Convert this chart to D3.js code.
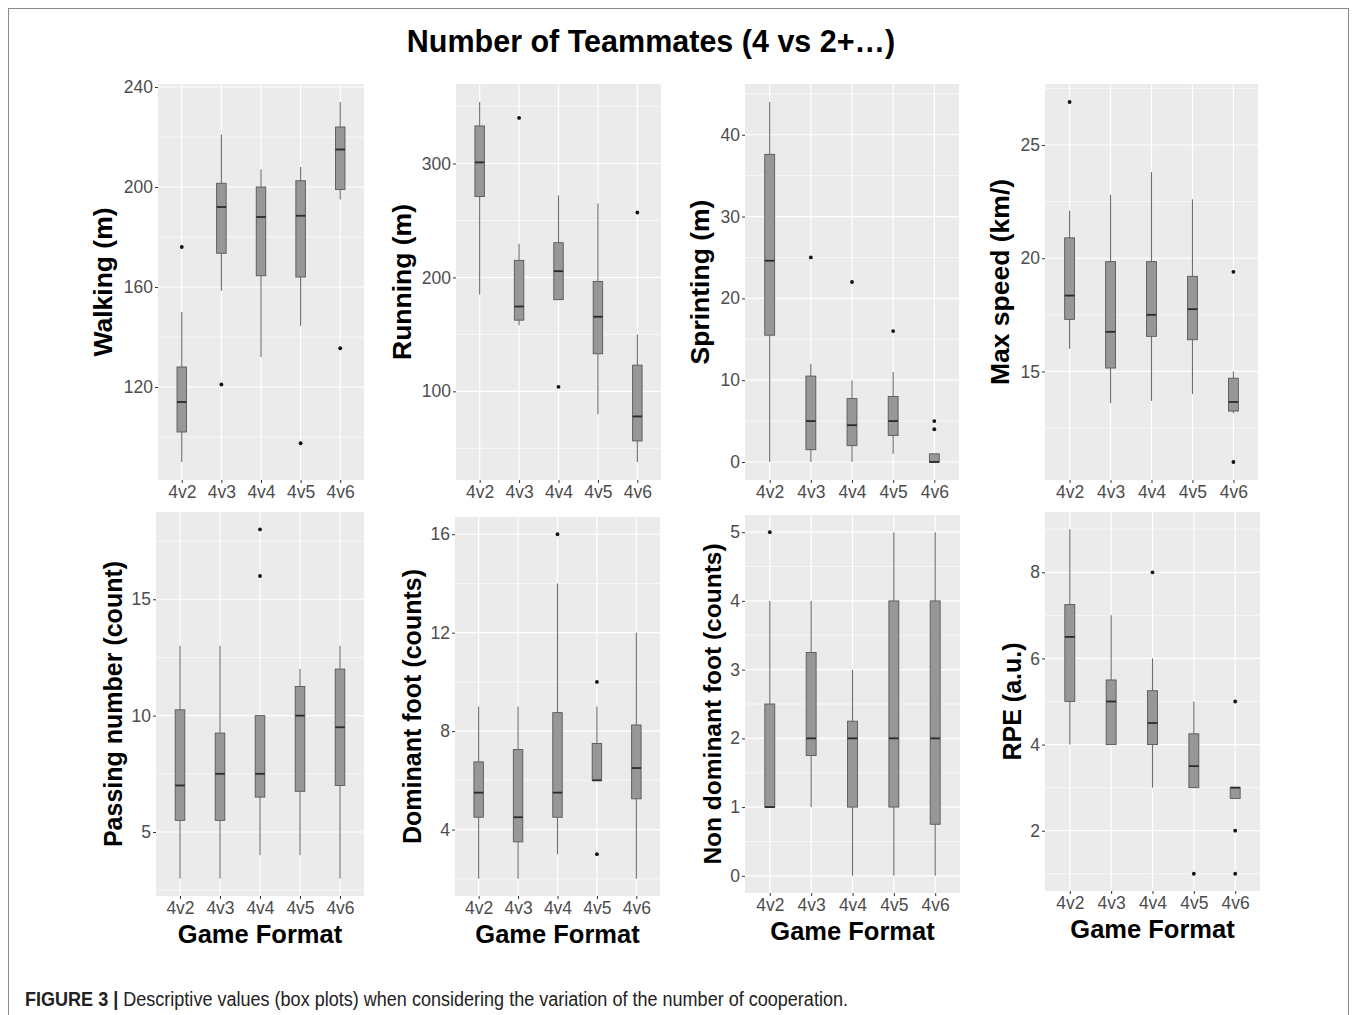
<!DOCTYPE html>
<html>
<head>
<meta charset="utf-8">
<script src="https://cdn.jsdelivr.net/npm/d3@7"></script>
<style>
  html, body { margin: 0; padding: 0; background: #fff; }
  svg { display: block; }
  .tick text { fill: #4D4D4D; }
  .tick line { stroke: #333; }
</style>
</head>
<body>
<svg id="fig" width="1357" height="1015"></svg>
<script>
// Game formats on the x axis of every panel
const categories = ["4v2", "4v3", "4v4", "4v5", "4v6"];

// Box statistics per format: [lower whisker, Q1, median, Q3, upper whisker]
const walkingStats = [[90, 102, 114, 128, 150], [158.5, 173.5, 192, 201.5, 221], [132, 164.5, 188, 200, 207], [144.5, 164, 188.5, 202.5, 208], [195, 199, 215, 224, 234]];
const walkingOutliers = [[176], [121], [], [97.5], [135.5]];

const runningStats = [[185, 271, 301, 333, 354], [158, 162.5, 174.5, 215, 229.5], [180.5, 180.5, 205.5, 230.5, 272], [80, 133, 165.5, 196.5, 265], [38, 56.5, 78, 123, 150]];
const runningOutliers = [[], [340], [104], [], [257]];

const sprintingStats = [[0, 15.5, 24.6, 37.6, 44], [0, 1.5, 5, 10.5, 12], [0, 2, 4.5, 7.75, 10], [1, 3.25, 5, 8, 11], [0, 0, 0, 1, 1]];
const sprintingOutliers = [[], [25], [22], [16], [4, 5]];

const maxSpeedStats = [[16, 17.3, 18.35, 20.9, 22.1], [13.6, 15.15, 16.75, 19.85, 22.8], [13.7, 16.55, 17.5, 19.85, 23.8], [14, 16.4, 17.75, 19.2, 22.6], [13.15, 13.25, 13.65, 14.7, 15]];
const maxSpeedOutliers = [[26.9], [], [], [], [19.4, 11]];

const passingStats = [[3, 5.5, 7, 10.25, 13], [3, 5.5, 7.5, 9.25, 13], [4, 6.5, 7.5, 10, 10], [4, 6.75, 10, 11.25, 12], [3, 7, 9.5, 12, 13]];
const passingOutliers = [[], [], [16, 18], [], []];

const dominantStats = [[2, 4.5, 5.5, 6.75, 9], [2, 3.5, 4.5, 7.25, 9], [3, 4.5, 5.5, 8.75, 14], [6, 6, 6, 7.5, 9], [2, 5.25, 6.5, 8.25, 12]];
const dominantOutliers = [[], [], [16], [10, 3], []];

const nonDominantStats = [[1, 1, 1, 2.5, 4], [1, 1.75, 2, 3.25, 4], [0, 1, 2, 2.25, 3], [0, 1, 2, 4, 5], [0, 0.75, 2, 4, 5]];
const nonDominantOutliers = [[5], [], [], [], []];

const rpeStats = [[4, 5, 6.5, 7.25, 9], [4, 4, 5, 5.5, 7], [3, 4, 4.5, 5.25, 6], [3, 3, 3.5, 4.25, 5], [2.75, 2.75, 3, 3, 3]];
const rpeOutliers = [[], [], [8], [1], [5, 2, 1]];

// Tick labels on each y axis
const walkingTicks = [120, 160, 200, 240];
const runningTicks = [100, 200, 300];
const sprintingTicks = [0, 10, 20, 30, 40];
const maxSpeedTicks = [15, 20, 25];
const passingTicks = [5, 10, 15];
const dominantTicks = [4, 8, 12, 16];
const nonDominantTicks = [0, 1, 2, 3, 4, 5];
const rpeTicks = [2, 4, 6, 8];

const yTitles = ["Walking (m)", "Running (m)", "Sprinting (m)", "Max speed (km/)",
                 "Passing number (count)", "Dominant foot (counts)", "Non dominant foot (counts)", "RPE (a.u.)"];

const panelData = [
  { stats: walkingStats, outliers: walkingOutliers, ticks: walkingTicks },
  { stats: runningStats, outliers: runningOutliers, ticks: runningTicks },
  { stats: sprintingStats, outliers: sprintingOutliers, ticks: sprintingTicks },
  { stats: maxSpeedStats, outliers: maxSpeedOutliers, ticks: maxSpeedTicks },
  { stats: passingStats, outliers: passingOutliers, ticks: passingTicks },
  { stats: dominantStats, outliers: dominantOutliers, ticks: dominantTicks },
  { stats: nonDominantStats, outliers: nonDominantOutliers, ticks: nonDominantTicks },
  { stats: rpeStats, outliers: rpeOutliers, ticks: rpeTicks }
];

// Panel rectangles (left, top, right, bottom), y-title centre and font sizes
const layout = [
  { l: 158, t: 84, r: 364, b: 480, tx: 103, tfs: 26.5, xTitle: false },
  { l: 456, t: 84, r: 661, b: 480, tx: 402, tfs: 26.5, xTitle: false },
  { l: 745, t: 84, r: 959, b: 480, tx: 700, tfs: 26.5, xTitle: false },
  { l: 1045, t: 84, r: 1258, b: 480, tx: 1000, tfs: 26.5, xTitle: false },
  { l: 156, t: 512, r: 364, b: 896, tx: 113, tfs: 25, xTitle: true },
  { l: 455, t: 517, r: 660, b: 896, tx: 412, tfs: 25, xTitle: true },
  { l: 745, t: 515, r: 960, b: 893, tx: 712, tfs: 24.5, xTitle: true },
  { l: 1045, t: 512, r: 1260, b: 891, tx: 1012, tfs: 25, xTitle: true }
];

const svg = d3.select("#fig");
const FONT = "Liberation Sans, Arial, Helvetica, sans-serif";

// Outer frame
svg.append("rect")
  .attr("x", 8.5).attr("y", 8.5).attr("width", 1340).attr("height", 1020)
  .attr("fill", "none").attr("stroke", "#8a8a8a").attr("stroke-width", 1);

// Overall title
svg.append("text")
  .attr("x", 651).attr("y", 52)
  .attr("text-anchor", "middle")
  .attr("font-family", FONT).attr("font-weight", "bold").attr("font-size", 30.5)
  .attr("fill", "#000")
  .text("Number of Teammates (4 vs 2+…)");

panelData.forEach((pd, i) => {
  const L = layout[i];
  const g = svg.append("g");

  // Discrete x scale with ggplot-style 0.6 expansion on both sides
  const x = d3.scaleLinear().domain([0.4, categories.length + 0.6]).range([L.l, L.r]);
  const unit = (L.r - L.l) / (categories.length + 0.2);

  // Continuous y scale expanded by 5% of the data range
  const all = pd.stats.flat().concat(pd.outliers.flat());
  const lo = d3.min(all), hi = d3.max(all), pad = (hi - lo) * 0.05;
  const y = d3.scaleLinear().domain([lo - pad, hi + pad]).range([L.b, L.t]);

  // Panel background
  g.append("rect")
    .attr("x", L.l).attr("y", L.t).attr("width", L.r - L.l).attr("height", L.b - L.t)
    .attr("fill", "#EBEBEB");

  // Minor grid lines halfway between major ticks
  const step = pd.ticks[1] - pd.ticks[0];
  const minors = [];
  for (let v = pd.ticks[0] - step / 2; v <= hi + pad; v += step) {
    if (v >= lo - pad) minors.push(v);
  }
  g.selectAll(".minor").data(minors).enter().append("line")
    .attr("x1", L.l).attr("x2", L.r)
    .attr("y1", d => y(d)).attr("y2", d => y(d))
    .attr("stroke", "#fff").attr("stroke-width", 0.6);

  // Major grid lines
  g.selectAll(".major").data(pd.ticks).enter().append("line")
    .attr("x1", L.l).attr("x2", L.r)
    .attr("y1", d => y(d)).attr("y2", d => y(d))
    .attr("stroke", "#fff").attr("stroke-width", 1.2);
  g.selectAll(".vmajor").data(categories).enter().append("line")
    .attr("x1", (d, k) => x(k + 1)).attr("x2", (d, k) => x(k + 1))
    .attr("y1", L.t).attr("y2", L.b)
    .attr("stroke", "#fff").attr("stroke-width", 1.2);

  // Axes
  const yAxis = d3.axisLeft(y).tickValues(pd.ticks).tickSize(3).tickPadding(2).tickFormat(d3.format("d"));
  const ya = g.append("g").attr("transform", `translate(${L.l},0)`).call(yAxis);
  ya.select(".domain").remove();
  ya.selectAll("text").attr("font-family", FONT).attr("font-size", 17.5).attr("fill", "#4D4D4D");
  ya.selectAll("line").attr("stroke", "#333");

  const xAxis = d3.axisBottom(x).tickValues(categories.map((c, k) => k + 1))
    .tickFormat((d) => categories[d - 1]).tickSize(3).tickPadding(3);
  const xa = g.append("g").attr("transform", `translate(0,${L.b})`).call(xAxis);
  xa.select(".domain").remove();
  xa.selectAll("text").attr("font-family", FONT).attr("font-size", 17.5).attr("fill", "#4D4D4D");
  xa.selectAll("line").attr("stroke", "#333");

  // Boxes
  const bw = unit * 0.24;
  pd.stats.forEach((s, k) => {
    const cx = x(k + 1);
    const [wLo, q1, med, q3, wHi] = s;
    g.append("line").attr("x1", cx).attr("x2", cx).attr("y1", y(q3)).attr("y2", y(wHi))
      .attr("stroke", "#6e6e6e").attr("stroke-width", 1.1);
    g.append("line").attr("x1", cx).attr("x2", cx).attr("y1", y(q1)).attr("y2", y(wLo))
      .attr("stroke", "#6e6e6e").attr("stroke-width", 1.1);
    g.append("rect")
      .attr("x", cx - bw / 2).attr("y", y(q3))
      .attr("width", bw).attr("height", Math.max(0.5, y(q1) - y(q3)))
      .attr("fill", "#979797").attr("stroke", "#585858").attr("stroke-width", 0.9);
    g.append("line").attr("x1", cx - bw / 2).attr("x2", cx + bw / 2)
      .attr("y1", y(med)).attr("y2", y(med))
      .attr("stroke", "#2b2b2b").attr("stroke-width", 1.8);
    g.selectAll(null).data(pd.outliers[k]).enter().append("circle")
      .attr("cx", cx).attr("cy", d => y(d)).attr("r", 1.9).attr("fill", "#111");
  });

  // Y axis title
  g.append("text")
    .attr("transform", `translate(${L.tx},${(L.t + L.b) / 2}) rotate(-90)`)
    .attr("dy", "0.35em")
    .attr("text-anchor", "middle")
    .attr("font-family", FONT).attr("font-weight", "bold").attr("font-size", L.tfs)
    .attr("fill", "#000")
    .text(yTitles[i]);

  // X axis title on the bottom row
  if (L.xTitle) {
    g.append("text")
      .attr("x", (L.l + L.r) / 2).attr("y", L.b + 47)
      .attr("text-anchor", "middle")
      .attr("font-family", FONT).attr("font-weight", "bold").attr("font-size", 25.5)
      .attr("fill", "#000")
      .text("Game Format");
  }
});

// Figure caption, set in a condensed width
const cap = svg.append("text")
  .attr("x", 25).attr("y", 1006)
  .attr("font-family", "Liberation Sans Narrow, Arial Narrow, Liberation Sans, Arial, sans-serif")
  .attr("font-size", 19.5).attr("fill", "#222")
  .attr("textLength", 823).attr("lengthAdjust", "spacingAndGlyphs");
cap.append("tspan").attr("font-weight", "bold").text("FIGURE 3 | ");
cap.append("tspan").text("Descriptive values (box plots) when considering the variation of the number of cooperation.");
</script>
</body>
</html>
